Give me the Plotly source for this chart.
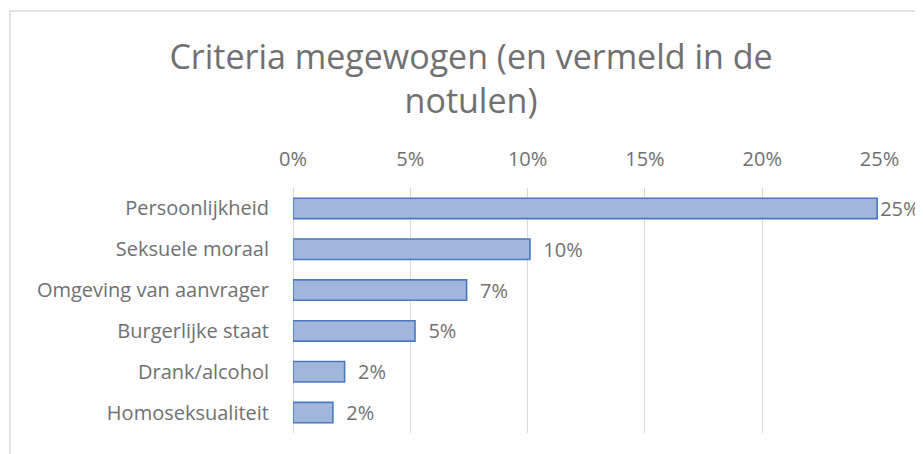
import plotly.graph_objects as go

categories = ["Persoonlijkheid", "Seksuele moraal", "Omgeving van aanvrager",
              "Burgerlijke staat", "Drank/alcohol", "Homoseksualiteit"]
values = [0.249, 0.101, 0.074, 0.052, 0.022, 0.017]
tick_vals = [0, 0.05, 0.10, 0.15, 0.20, 0.25]
tick_text = ["0%", "5%", "10%", "15%", "20%", "25%"]
title_text = "Criteria megewogen (en vermeld in de<br>notulen)"

FONT = "Open Sans"
GREY = "#707070"
FS = 20

# data labels: pad all but the one that reaches the axis end
labels = [("" if v >= 0.2 else "\u00a0\u00a0") + f"{v:.0%}" for v in values]

fig = go.Figure()
fig.add_trace(go.Bar(
    y=categories, x=values, orientation="h",
    marker=dict(color="#a1b6db", line=dict(color="#4a78c4", width=1.6)),
    text=labels, textposition="outside", cliponaxis=False, constraintext="none",
    textfont=dict(family=FONT, size=FS, color=GREY),
    hoverinfo="skip",
))

# page body has an 8px margin, so the figure is sized to fit the window
W, H = 915, 446
L, T, B = 285, 180, 21
pw = 587
R = W - L - pw
ph = H - T - B

fig.update_layout(
    width=W, height=H,
    margin=dict(l=L, r=R, t=T, b=B, autoexpand=False),
    paper_bgcolor="white", plot_bgcolor="white",
    showlegend=False,
    bargap=0.5,
    title=dict(text=title_text, x=463 / W, xref="container", xanchor="center",
               y=1 - 61 / H, yref="container", yanchor="top",
               font=dict(family=FONT, size=34, color=GREY)),
    font=dict(family=FONT, color=GREY),
    xaxis=dict(range=[0, 0.2502], side="top", tickvals=tick_vals, ticktext=tick_text,
               showgrid=True, gridcolor="#d9d9d9", gridwidth=1.2,
               zeroline=True, zerolinecolor="#d9d9d9", zerolinewidth=1.2,
               showline=False, ticks="", ticklabelstandoff=17,
               tickfont=dict(family=FONT, size=FS, color=GREY), fixedrange=True),
    yaxis=dict(autorange="reversed", showgrid=False, zeroline=False, ticks="",
               ticklabelstandoff=23,
               tickfont=dict(family=FONT, size=FS, color=GREY), fixedrange=True),
    shapes=[dict(type="rect", xref="paper", yref="paper",
                 x0=(2 - L) / pw, x1=1.3, y0=-0.5, y1=(H - B - 3) / ph,
                 line=dict(color="#d9d9d9", width=1.5), fillcolor="rgba(0,0,0,0)",
                 layer="below")],
)

fig.write_html("out.html")
